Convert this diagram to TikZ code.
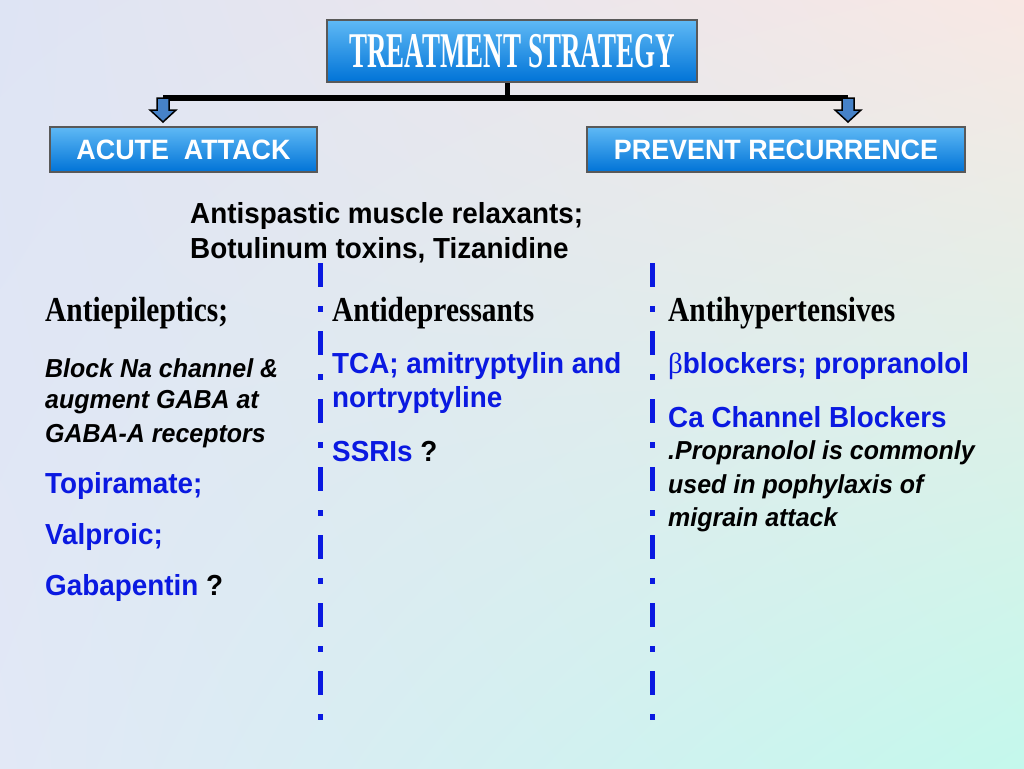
\documentclass[tikz,border=0pt]{standalone}
\usepackage{fontspec}
\usepackage{tikz}
\usetikzlibrary{positioning, shadings}
\newfontfamily\bodyfont[FakeStretch=0.96]{Liberation Sans}
\newfontfamily\headfont[FakeStretch=0.84]{Liberation Serif}
\newfontfamily\titlefont[FakeStretch=0.54]{Liberation Serif}
\definecolor{txtblue}{RGB}{10,25,225}
\definecolor{boxtop}{RGB}{95,185,245}
\definecolor{boxbot}{RGB}{0,115,215}
\definecolor{arrblue}{RGB}{70,130,200}
\definecolor{bgul}{RGB}{222,228,244}
\definecolor{bgur}{RGB}{248,232,228}
\definecolor{bgll}{RGB}{226,232,246}
\definecolor{bglr}{RGB}{196,248,236}
\tikzset{%
	every box/.style={
		draw=black!65, line width=2pt, rectangle, inner sep=0pt,
		top color=boxtop, bottom color=boxbot, text=white
	},
	body text/.style={anchor=west, inner sep=0pt, font=\bodyfont\bfseries\fontsize{29}{32}\selectfont},
	blue text/.style={body text, text=txtblue},
	note text/.style={body text, font=\bodyfont\bfseries\itshape\fontsize{26}{28}\selectfont},
	head text/.style={anchor=west, inner sep=0pt, font=\headfont\bfseries\fontsize{35}{40}\selectfont},
	divider/.style={txtblue, line width=5pt, dash pattern=on 24pt off 19pt on 6pt off 19pt},
	block arrow/.style={fill=arrblue, draw=black, line width=1.5pt, line join=miter},
}

\begin{document}
\begin{tikzpicture}[x=1pt, y=-1pt]
	% background
	\shade[upper left=bgul, upper right=bgur, lower left=bgll, lower right=bglr]
		(0,0) rectangle (1024,768);
	\useasboundingbox (0,0) rectangle (1024,768);

	% boxes
	\node[every box, minimum width=370pt, minimum height=62pt, font=\titlefont\bfseries\fontsize{50}{50}\selectfont]
		(strategy) at (512,51) {TREATMENT STRATEGY};
	\node[every box, minimum width=267pt, minimum height=45pt, font=\bodyfont\bfseries\fontsize{28}{28}\selectfont]
		(acute) at (183.5,149.5) {ACUTE\ \ ATTACK};
	\node[every box, minimum width=378pt, minimum height=45pt, font=\bodyfont\bfseries\fontsize{28}{28}\selectfont]
		(prevent) at (776,149.5) {PREVENT RECURRENCE};

	% connectors
	\coordinate (barmid) at (507,98);
	\coordinate (barleft) at (163,98);
	\coordinate (barright) at (848,98);
	\draw[line width=5pt] (strategy.south -| barmid) -- (barmid);
	\draw[line width=6pt] (barleft) -- (barright);
	\foreach \tip in {barleft, barright} {
		\draw[block arrow] ([xshift=-6pt]\tip) -- ++(0,12) -- ++(-7,0) -- ++(13,12) -- ++(13,-12) -- ++(-7,0) -- ++(0,-12) -- cycle;
	}

	% dividers
	\coordinate (divAtop) at (320,263);
	\coordinate (divAbot) at (320,736);
	\coordinate (divBtop) at (652,263);
	\coordinate (divBbot) at (652,736);
	\draw[divider] (divAtop) -- (divAbot);
	\draw[divider] (divBtop) -- (divBbot);

	% top note
	\node[body text] (spas1) at (190,216) {Antispastic muscle relaxants;};
	\node[body text] (spas2) at (190,250) {Botulinum toxins, Tizanidine};

	% left column
	\node[head text] (epi) at (45,313) {Antiepileptics;};
	\node[note text] (epi1) at (45,368) {Block Na channel \&};
	\node[note text] (epi2) at (45,402) {augment GABA at};
	\node[note text] (epi3) at (45,436) {GABA-A receptors};
	\node[blue text] (topi) at (45,486) {Topiramate;};
	\node[blue text] (valp) at (45,537) {Valproic;};
	\node[blue text] (gaba) at (45,588) {Gabapentin \textcolor{black}{?}};

	% middle column
	\node[head text] (dep) at (332,313) {Antidepressants};
	\node[blue text] (tca1) at (332,366) {TCA; amitryptylin and};
	\node[blue text] (tca2) at (332,400) {nortryptyline};
	\node[blue text] (ssri) at (332,452) {SSRIs \textcolor{black}{?}};

	% right column
	\node[head text] (hyp) at (668,313) {Antihypertensives};
	\node[blue text] (beta) at (668,366) {{\fontspec{Liberation Serif}\mdseries β}blockers; propranolol};
	\node[blue text] (cacb) at (668,417) {Ca Channel Blockers};
	\node[note text] (prop1) at (668,453) {.Propranolol is commonly};
	\node[note text] (prop2) at (668,487) {used in pophylaxis of};
	\node[note text] (prop3) at (668,520) {migrain attack};
\end{tikzpicture}
\end{document}
